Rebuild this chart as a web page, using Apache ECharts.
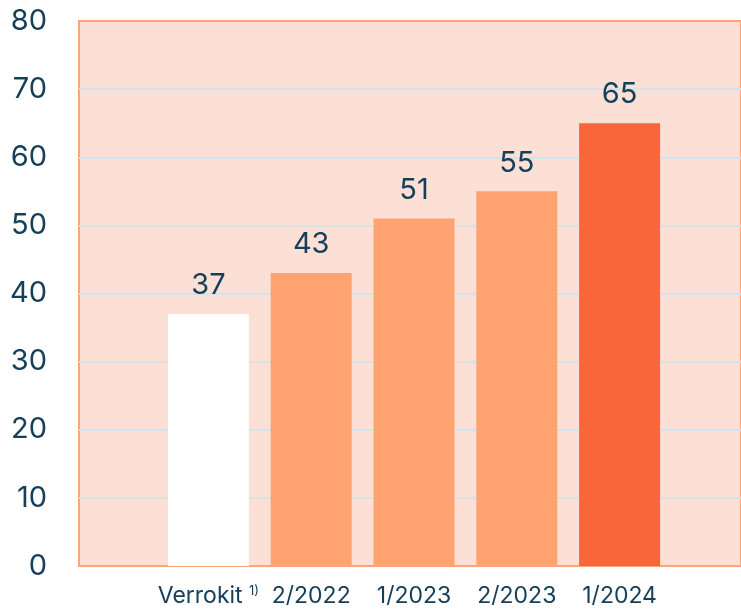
<!DOCTYPE html>
<html><head><meta charset="utf-8">
<script src="https://cdn.jsdelivr.net/npm/echarts@6/dist/echarts.min.js"></script>
<style>html,body{margin:0;padding:0;background:#fff}#c{width:741px;height:610px}</style>
</head><body><div id="c"></div>
<script>
const categories = ['Verrokit', '2/2022', '1/2023', '2/2023', '1/2024'];
const values = [37, 43, 51, 55, 65];
const barColors = ['#FFFFFF', '#FFA370', '#FFA370', '#FFA370', '#F8663A'];
const yTicks = [0, 10, 20, 30, 40, 50, 60, 70, 80];

const textColor = '#16405A';
const font = 'Inter';
const chart = echarts.init(document.getElementById('c'));
chart.setOption({
  animation: false,
  grid: [
    {left: 79, top: 21, right: -10, bottom: 44, show: true, backgroundColor: '#FDE0D5', borderColor: '#FBA57C', borderWidth: 2},
    {left: 157, width: 514, top: 21, bottom: 44}
  ],
  xAxis: [
    {type: 'value', gridIndex: 0, show: false, min: 0, max: 1},
    {type: 'category', gridIndex: 1, data: categories,
     axisLine: {show: false}, axisTick: {show: false},
     axisLabel: {interval: 0, color: textColor, fontFamily: font, fontSize: 23, margin: 19,
       formatter: function (v) { return v === 'Verrokit' ? '{a|Verrokit} {s|1)}' : v; },
       rich: {a: {color: textColor, fontFamily: font, fontSize: 23},
              s: {color: textColor, fontFamily: font, fontSize: 13, verticalAlign: 'top', padding: [0, 0, 10, 0]}}
     }}
  ],
  yAxis: [
    {type: 'value', gridIndex: 0, min: yTicks[0], max: yTicks[yTicks.length - 1], interval: 10,
     axisLine: {show: false}, axisTick: {show: false},
     axisLabel: {color: textColor, fontFamily: font, fontSize: 29, margin: 32},
     splitLine: {showMinLine: false, showMaxLine: false, lineStyle: {color: '#D3E3E8', width: 2}}},
    {type: 'value', gridIndex: 1, min: yTicks[0], max: yTicks[yTicks.length - 1], show: false, splitLine: {show: false}}
  ],
  series: [{
    type: 'bar', xAxisIndex: 1, yAxisIndex: 1, barWidth: 81,
    data: values.map((v, i) => ({value: v, itemStyle: {color: barColors[i]}})),
    label: {show: true, position: 'top', distance: 14, color: textColor, fontFamily: font, fontSize: 29}
  }]
});
</script></body></html>
